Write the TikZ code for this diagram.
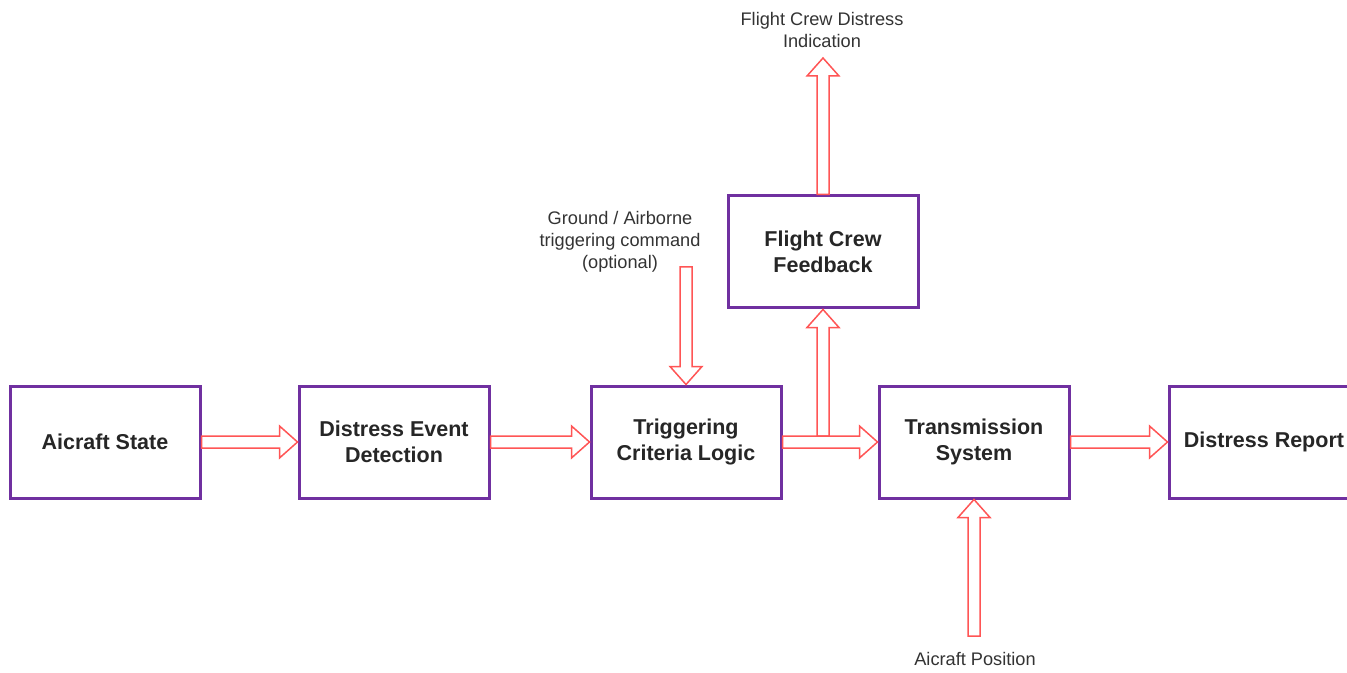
\documentclass[tikz,border=0pt]{standalone}
\usepackage{fontspec}
\setmainfont{Liberation Sans}
\usetikzlibrary{calc}

\definecolor{boxpurple}{RGB}{112,48,160}
\definecolor{arrowred}{RGB}{255,85,85}

% hollow block arrow from #1 to #2
\newcommand{\blockarrow}[2]{%
  \path ($(#2)!9pt!(#1)$) coordinate (head);
  \filldraw[arrow body] ($(#1)!3pt!90:(#2)$) -- ($(head)!3pt!-90:(#1)$)
    -- ($(head)!8pt!-90:(#1)$) -- (#2) -- ($(head)!8pt!90:(#1)$)
    -- ($(head)!3pt!90:(#1)$) -- ($(#1)!3pt!-90:(#2)$) -- cycle;
}

\begin{document}
\begin{tikzpicture}[
    x=0.5pt, y=-0.5pt,
    block/.style={draw=boxpurple, line width=1.5pt, fill=white, align=center,
      minimum width=95pt, minimum height=56pt, inner sep=0pt, text=black!85,
      font=\bfseries\fontsize{10.75}{13}\selectfont},
    note/.style={align=center, text=black!80, font=\fontsize{9.1}{11}\selectfont},
    arrow body/.style={draw=arrowred, fill=white, line width=0.75pt, line join=miter}
]
    \useasboundingbox (0,0) rectangle (1347,673);

    \node[block] (state) at (105,442) {Aicraft State};
    \node[block] (detect) at (394,442) {Distress Event\\Detection};
    \node[block] (trigger) at (686,442) {Triggering\\Criteria Logic};
    \node[block] (feedback) at (823,252) {Flight Crew\\Feedback};
    \node[block] (transmit) at (974,442) {Transmission\\System};
    \node[block] (report) at (1264,442) {Distress Report};

    \node[note] (indication) at (822,30) {Flight Crew Distress\\Indication};
    \node[note] (command) at (620,242) {Ground / Airborne\\triggering command\\(optional)};
    \node[note] (position) at (975,659) {Aicraft Position};

    \coordinate (ind tip) at (823,58);
    \coordinate (cmd tail) at (686,267);
    \coordinate (pos tail) at (974,636);
    \coordinate (split) at (823,436);

    \blockarrow{state.east}{detect.west}
    \blockarrow{detect.east}{trigger.west}
    \blockarrow{split}{feedback.south}
    \blockarrow{trigger.east}{transmit.west}
    \blockarrow{transmit.east}{report.west}
    \blockarrow{feedback.north}{ind tip}
    \blockarrow{cmd tail}{trigger.north}
    \blockarrow{pos tail}{transmit.south}
\end{tikzpicture}
\end{document}
